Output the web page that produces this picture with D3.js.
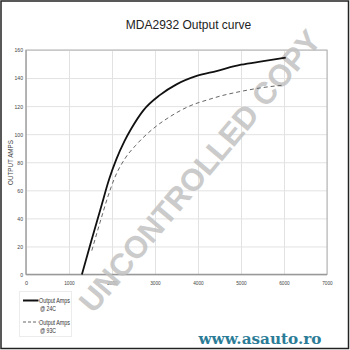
<!DOCTYPE html>
<html>
<head>
<meta charset="utf-8">
<script src="https://cdnjs.cloudflare.com/ajax/libs/d3/7.8.5/d3.min.js"></script>
<style>
    html, body { margin: 0; padding: 0; background: #fff; }
    svg { display: block; }
</style>
</head>
<body>
<svg id="chart" width="350" height="350"></svg>
<script>
/*
 * MDA2932 output curve
 */

// chart data
var rpm24  = [1300, 1520, 1745, 1935, 2100, 2290, 2450, 2730, 3120, 3500, 3970, 4430, 5000, 5520, 6040];
var amps24 = [0, 24, 48, 68, 82, 95, 104, 117, 128, 135.5, 141.5, 145, 149.5, 152, 154.5];

var rpm93  = [1530, 1720, 1910, 2050, 2310, 2550, 2960, 3350, 3800, 4280, 4500, 5000, 5500, 6000];
var amps93 = [17, 37, 56, 68, 83, 92, 104, 112.5, 120, 125, 127, 130.5, 133.2, 135];

var xTicks = [0, 1000, 2000, 3000, 4000, 5000, 6000, 7000];
var yTicks = [0, 20, 40, 60, 80, 100, 120, 140, 160];

var seriesNames = ["Output Amps", "Output Amps"];
var seriesTemps = ["@ 24C", "@ 93C"];

var chartTitle = "MDA2932 Output curve";
var yTitle = "OUTPUT AMPS";
var watermark = "UNCONTROLLED COPY";
var siteName = "www.asauto.ro";


/* ==========================================================================
 * Setup
 * ========================================================================== */

var svg = d3.select("#chart");
var plot = { left: 26, right: 327, top: 50, bottom: 274.5 };
var font = "'Liberation Sans', Arial, sans-serif";

var x = d3.scaleLinear().domain([0, 7000]).range([plot.left, plot.right]);
var y = d3.scaleLinear().domain([0, 160]).range([plot.bottom, plot.top]);

function zip(a, b) {
    return a.map(function(v, i) { return [v, b[i]]; });
}


/* ==========================================================================
 * Axes and grid
 * ========================================================================== */

function drawAxes() {
    // horizontal grid + y labels
    var ya = svg.append("g")
        .attr("transform", "translate(" + plot.left + ",0)")
        .call(d3.axisLeft(y).tickValues(yTicks).tickSize(-(plot.right - plot.left)).tickPadding(3));
    ya.select(".domain").remove();
    ya.selectAll("line").attr("stroke", "#e2e2e2").attr("stroke-width", 1);
    ya.selectAll("text")
        .attr("font-family", font).attr("font-size", 6).attr("fill", "#444")
        .attr("transform", "scale(0.85,1)").attr("x", -3 / 0.85);

    // vertical grid + x labels
    var xa = svg.append("g")
        .attr("transform", "translate(0," + plot.bottom + ")")
        .call(d3.axisBottom(x).tickValues(xTicks).tickFormat(d3.format("d"))
            .tickSize(-(plot.bottom - plot.top)).tickPadding(7));
    xa.select(".domain").remove();
    xa.selectAll("line").attr("stroke", "#e2e2e2").attr("stroke-width", 1);
    xa.selectAll("text")
        .attr("font-family", font).attr("font-size", 5.5).attr("fill", "#444")
        .attr("textLength", function(d) { return d === 0 ? null : 10.5; })
        .attr("lengthAdjust", "spacingAndGlyphs");

    // plot frame
    svg.append("rect")
        .attr("x", plot.left).attr("y", plot.top)
        .attr("width", plot.right - plot.left).attr("height", plot.bottom - plot.top)
        .attr("fill", "none").attr("stroke", "#b0b0b0").attr("stroke-width", 1);
    svg.append("line")
        .attr("x1", plot.left).attr("x2", plot.right)
        .attr("y1", plot.bottom).attr("y2", plot.bottom)
        .attr("stroke", "#999").attr("stroke-width", 1.6);
    svg.append("line")
        .attr("x1", plot.left).attr("x2", plot.left)
        .attr("y1", plot.top).attr("y2", plot.bottom)
        .attr("stroke", "#a0a0a0").attr("stroke-width", 1.2);
}


/* ==========================================================================
 * Texts
 * ========================================================================== */

function drawTexts() {
    svg.append("text")
        .attr("x", 188.5).attr("y", 29.3)
        .attr("text-anchor", "middle")
        .attr("font-family", font).attr("font-size", 12).attr("fill", "#222")
        .text(chartTitle);

    svg.append("text")
        .attr("transform", "translate(12.5,162.5) rotate(-90)")
        .attr("text-anchor", "middle")
        .attr("font-family", font).attr("font-size", 7).attr("fill", "#444")
        .attr("textLength", 45).attr("lengthAdjust", "spacingAndGlyphs")
        .text(yTitle);

    svg.append("text")
        .attr("x", 260).attr("y", 344)
        .attr("text-anchor", "middle")
        .attr("font-family", "'DejaVu Serif', serif").attr("font-weight", "bold")
        .attr("font-size", 14).attr("fill", "#2b7c97")
        .attr("textLength", 123).attr("lengthAdjust", "spacingAndGlyphs")
        .text(siteName);
}

function drawWatermark() {
    svg.append("text")
        .attr("transform", "translate(208,178) rotate(-50)")
        .attr("text-anchor", "middle")
        .attr("font-family", font).attr("font-weight", "bold")
        .attr("font-size", 31).attr("fill", "#c2c2c2").attr("opacity", 0.85)
        .text(watermark);
}


/* ==========================================================================
 * Curves and legend
 * ========================================================================== */

function drawCurves() {
    var line = d3.line()
        .x(function(d) { return x(d[0]); })
        .y(function(d) { return y(d[1]); })
        .curve(d3.curveMonotoneX);

    svg.append("path")
        .datum(zip(rpm93, amps93))
        .attr("d", line)
        .attr("fill", "none").attr("stroke", "#666").attr("stroke-width", 1)
        .attr("stroke-dasharray", "4,3");

    svg.append("path")
        .datum(zip(rpm24, amps24))
        .attr("d", line)
        .attr("fill", "none").attr("stroke", "#111").attr("stroke-width", 1.8);
}

function drawLegend() {
    var lg = svg.append("g");
    lg.append("rect")
        .attr("x", 19.5).attr("y", 291.5).attr("width", 52).attr("height", 45)
        .attr("fill", "#fff").attr("stroke", "#ececec");

    var rows = [
        { y: 300.5, dash: null, color: "#111", width: 2 },
        { y: 322, dash: "3,2", color: "#666", width: 1 }
    ];
    rows.forEach(function(r, i) {
        lg.append("line")
            .attr("x1", 23).attr("x2", 38.5).attr("y1", r.y).attr("y2", r.y)
            .attr("stroke", r.color).attr("stroke-width", r.width)
            .attr("stroke-dasharray", r.dash);
        lg.append("text")
            .attr("x", 39).attr("y", r.y + 2.8)
            .attr("font-family", font).attr("font-size", 7).attr("fill", "#333")
            .attr("textLength", 31).attr("lengthAdjust", "spacingAndGlyphs")
            .text(seriesNames[i]);
        lg.append("text")
            .attr("x", 40).attr("y", r.y + 10.8)
            .attr("font-family", font).attr("font-size", 7).attr("fill", "#333")
            .attr("textLength", 16).attr("lengthAdjust", "spacingAndGlyphs")
            .text(seriesTemps[i]);
    });
}


/* ==========================================================================
 * Build
 * ========================================================================== */

drawAxes();
drawWatermark();
drawCurves();
drawLegend();
drawTexts();

// outer frame
svg.append("rect")
    .attr("x", 1).attr("y", 1).attr("width", 347.5).attr("height", 347.5)
    .attr("fill", "none").attr("stroke", "#222").attr("stroke-width", 1.5);
</script>
</body>
</html>
